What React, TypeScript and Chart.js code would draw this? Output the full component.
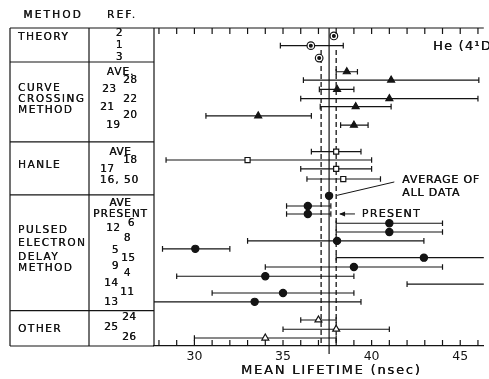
import React, { useEffect, useRef } from 'react';
import { Chart, registerables } from 'chart.js';

Chart.register(...registerables);

// ---------- DATA ----------
const methodGroups = [
  ['THEORY'],
  ['CURVE', 'CROSSING', 'METHOD'],
  ['HANLE'],
  ['PULSED', 'ELECTRON', 'DELAY', 'METHOD'],
  ['OTHER'],
];
const refLabels = ['2', '1', '3', 'AVE.', '28', '23', '22', '21', '20', '19', 'AVE', '18', '17', '16, 50', 'AVE', 'PRESENT', '6', '12', '8', '5', '15', '9', '4', '14', '11', '13', '24', '25', '26'];

// one entry per measurement row (top to bottom)
const rowMethod = ['theory', 'theory', 'theory',
  'curve', 'curve', 'curve', 'curve', 'curve', 'curve', 'curve',
  'hanle', 'hanle', 'hanle', 'hanle',
  'pulsed', 'pulsed', 'pulsed', 'pulsed', 'pulsed', 'pulsed', 'pulsed', 'pulsed', 'pulsed', 'pulsed', 'pulsed', 'pulsed',
  'other', 'other', 'other'];
const rowPos = [0.9, 2.0, 3.4, 4.95, 5.9, 6.95, 8.0, 8.9, 9.95, 11.0, 14.0, 14.95, 15.95, 17.1, 20.15, 21.05, 22.1, 23.1, 24.1, 25.0, 26.0, 27.05, 28.1, 29.0, 30.0, 31.0, 33.05, 34.1, 35.1];
const lifetimes = [37.87, 36.57, 37.04, 38.6, 41.1, 38.05, 41.0, 39.1, 33.6, 39.0, 38.0, 33.0, 38.0, 38.4, 36.4, 36.4, 41.0, 41.0, 38.05, 30.05, 42.95, 39.0, 34.0, null, 35.0, 33.4, 37.0, 38.0, 34.0];
const errLow = [null, 34.85, null, 38.0, 36.15, 37.05, 36.0, 37.1, 30.65, 38.25, 36.6, 28.4, 36.0, 36.35, 35.2, 35.2, 38.0, 38.0, 33.0, 28.2, 38.0, 34.0, 29.0, 42.0, 31.0, 27.0, 36.0, 35.0, 30.0];
const errHigh = [null, 38.4, null, 39.2, 46.05, 39.0, 46.0, 41.1, 36.6, 39.8, 39.4, 40.0, 40.0, 40.5, 37.7, 37.7, 44.0, 44.0, 42.95, 32.0, 47.5, 44.0, 39.0, 47.5, 39.0, 39.4, 38.0, 41.0, 38.0];

const allDataAverage = 37.6;
const allDataRow = 19.0;
const dashedRefs = [37.15, 38.0];
const xTicks = [30, 35, 40, 45];
const xMin = 27.72;
const xMax = 46.33;
const rowMax = 36;
const sectionBreaks = [3.85, 12.9, 18.9, 32.0];

// ---------- LAYOUT (pixels / rows for the table text) ----------
const methodTextRows = [[1.0], [6.8, 8.04, 9.28], [15.5], [22.87, 24.34, 25.9, 27.2], [34.08]];
const refX = [119, 119, 119, 120, 130, 109, 130, 107, 130, 113, 120, 130, 107, 119, 120, 120, 131, 113, 127, 115, 128, 115, 127, 111, 127, 111, 129, 111, 129];
const refY = [33, 45, 57, 72, 80, 89, 99, 107, 115, 125, 152, 160, 169, 180, 203, 214, 223, 228, 238, 250, 258, 266, 273, 283, 292, 302, 317, 327, 337];

const INK = '#141414';
const FONT = '"DejaVu Sans", sans-serif';
const TABLE_LEFT = 10;
const REF_DIV = 89;

function pts(method: string) {
  const out: { x: number; y: number }[] = [];
  rowMethod.forEach((m, i) => {
    if (m === method && lifetimes[i] != null) out.push({ x: lifetimes[i] as number, y: rowPos[i] });
  });
  return out;
}

function errorBarData() {
  const out: any[] = [];
  rowPos.forEach((r, i) => {
    if (errLow[i] == null || errHigh[i] == null) return;
    out.push({ x: errLow[i], y: r }, { x: errHigh[i], y: r }, { x: null, y: null });
  });
  return out;
}

const tablePlugin = {
  id: 'tableAndNotes',
  afterDraw(chart: any) {
    const { ctx, chartArea: a, scales } = chart;
    const X = (v: number) => scales.x.getPixelForValue(v);
    const Y = (v: number) => scales.y.getPixelForValue(v);
    const line = (x1: number, y1: number, x2: number, y2: number) => {
      ctx.beginPath();
      ctx.moveTo(x1, y1);
      ctx.lineTo(x2, y2);
      ctx.stroke();
    };
    const text = (s: string, px: number, py: number, size: number, spacing: number, align: CanvasTextAlign) => {
      ctx.font = `${size}px ${FONT}`;
      (ctx as any).letterSpacing = `${spacing}px`;
      ctx.textAlign = align;
      ctx.textBaseline = 'middle';
      let dx = 0;
      if (align === 'center') dx = spacing / 2;
      // slight double-strike to mimic the heavier printed lettering
      ctx.fillText(s, px + dx, py);
      ctx.fillText(s, px + dx + 0.35, py);
    };
    ctx.save();
    ctx.strokeStyle = INK;
    ctx.fillStyle = INK;
    ctx.lineWidth = 1.2;

    // top axis line and ticks
    line(TABLE_LEFT, a.top, a.right, a.top);
    for (let v = Math.ceil(xMin); v <= xMax; v++) {
      const px = X(v);
      line(px, a.top, px, a.top + 6);
      line(px, a.bottom, px, a.bottom - 6);
    }

    // table frame
    line(TABLE_LEFT, a.top, TABLE_LEFT, a.bottom);
    line(REF_DIV, a.top, REF_DIV, a.bottom);
    line(a.left, a.top, a.left, a.bottom);
    line(TABLE_LEFT, a.bottom, a.left, a.bottom);
    sectionBreaks.forEach((r) => line(TABLE_LEFT, Y(r), a.left, Y(r)));

    // headers
    text('METHOD', 52, 15, 10.5, 2.2, 'center');
    text('REF.', 121, 15, 10.5, 2.2, 'center');

    // method names
    methodGroups.forEach((g, gi) => {
      g.forEach((s, si) => text(s, 18, Y(methodTextRows[gi][si]), 10.5, 1.5, 'left'));
    });
    // references
    refLabels.forEach((s, i) => text(s, refX[i], refY[i], 10.5, s.length > 3 ? 1.0 : 0.5, 'center'));

    // He (4¹D)
    text('He (4¹D)', 433, 47, 13, 1.2, 'left');

    // average of all data pointer
    ctx.lineWidth = 1;
    line(X(allDataAverage + 0.45), Y(allDataRow) - 0.5, X(41.28), Y(17.43));
    text('AVERAGE OF', X(41.72), Y(17.2), 11, 0.8, 'left');
    text('ALL DATA', X(41.72), Y(18.68), 11, 0.8, 'left');

    // present arrow
    const pr = Y(21.05);
    line(X(38.22), pr, X(39.06), pr);
    ctx.beginPath();
    ctx.moveTo(X(38.22) - 1, pr);
    ctx.lineTo(X(38.22) + 5, pr - 2.5);
    ctx.lineTo(X(38.22) + 5, pr + 2.5);
    ctx.closePath();
    ctx.fill();
    text('PRESENT', X(39.44), pr, 11, 1.3, 'left');

    // axis title
    text('MEAN LIFETIME (nsec)', X(37.67), 371, 13, 1.8, 'center');
    ctx.restore();
  },
};

export default function App() {
  const ref = useRef<HTMLCanvasElement | null>(null);
  useEffect(() => {
    if (!ref.current) return;
    Chart.defaults.font.family = FONT;
    const marker = { borderColor: INK, pointBorderWidth: 1.2, showLine: false, order: 0 };
    const chart = new Chart(ref.current, {
      type: 'scatter',
      data: {
        datasets: [
          // reference lines
          ...dashedRefs.map((v) => ({
            data: [{ x: v, y: 2.5 }, { x: v, y: rowMax }],
            showLine: true, borderColor: INK, borderWidth: 1.3, borderDash: [5, 3], pointRadius: 0, order: 20,
          })),
          {
            data: [{ x: allDataAverage, y: 0 }, { x: allDataAverage, y: rowMax + 0.9 }],
            showLine: true, borderColor: INK, borderWidth: 1.2, pointRadius: 0, order: 20, clip: false,
          },
          {
            data: [{ x: allDataAverage, y: rowMax + 0.95 }],
            pointStyle: 'triangle', rotation: 180, pointRadius: 3.2, backgroundColor: INK, borderColor: INK, borderWidth: 0.5, order: 20, clip: false,
          },
          // error bars
          {
            data: errorBarData(),
            showLine: true, spanGaps: false, borderColor: INK, borderWidth: 1.1,
            pointStyle: 'line', rotation: 90, pointRadius: 2.8, pointBorderWidth: 1.2, pointBorderColor: INK,
            order: 10, clip: { left: 0, right: 0, top: 10, bottom: 10 },
          },
          // markers
          { ...marker, data: pts('theory'), pointStyle: 'circle', pointRadius: 3.8, backgroundColor: '#fff' },
          { ...marker, data: pts('theory'), pointStyle: 'circle', pointRadius: 1.4, backgroundColor: INK, order: -1 },
          { ...marker, data: pts('curve'), pointStyle: 'triangle', pointRadius: 4, backgroundColor: INK },
          { ...marker, data: pts('hanle'), pointStyle: 'rect', pointRadius: 3.6, backgroundColor: '#fff' },
          { ...marker, data: pts('pulsed'), pointStyle: 'circle', pointRadius: 3.6, backgroundColor: INK },
          { ...marker, data: [{ x: allDataAverage, y: allDataRow }], pointStyle: 'circle', pointRadius: 3.6, backgroundColor: INK },
          { ...marker, data: pts('other'), pointStyle: 'triangle', pointRadius: 4, backgroundColor: '#fff' },
        ] as any,
      },
      options: {
        animation: false,
        responsive: true,
        maintainAspectRatio: false,
        layout: { padding: { left: 154, top: 28, right: 0, bottom: 0 } },
        plugins: { legend: { display: false }, tooltip: { enabled: false } },
        scales: {
          x: {
            type: 'linear', position: 'bottom', min: xMin, max: xMax,
            afterBuildTicks: (s: any) => { s.ticks = xTicks.map((v) => ({ value: v })); },
            afterFit: (s: any) => { s.height = 33; },
            grid: { display: false, drawTicks: false },
            border: { display: true, color: INK, width: 1.2 },
            ticks: { color: INK, font: { size: 12.5, family: FONT }, padding: 3, maxRotation: 0 },
          },
          y: { type: 'linear', display: false, min: 0, max: rowMax, reverse: true },
        },
      } as any,
      plugins: [tablePlugin],
    });
    return () => chart.destroy();
  }, []);
  return (
    <div style={{ position: 'absolute', left: 0, top: 0, width: 489, height: 379, background: '#fff' }}>
      <canvas ref={ref} />
    </div>
  );
}
